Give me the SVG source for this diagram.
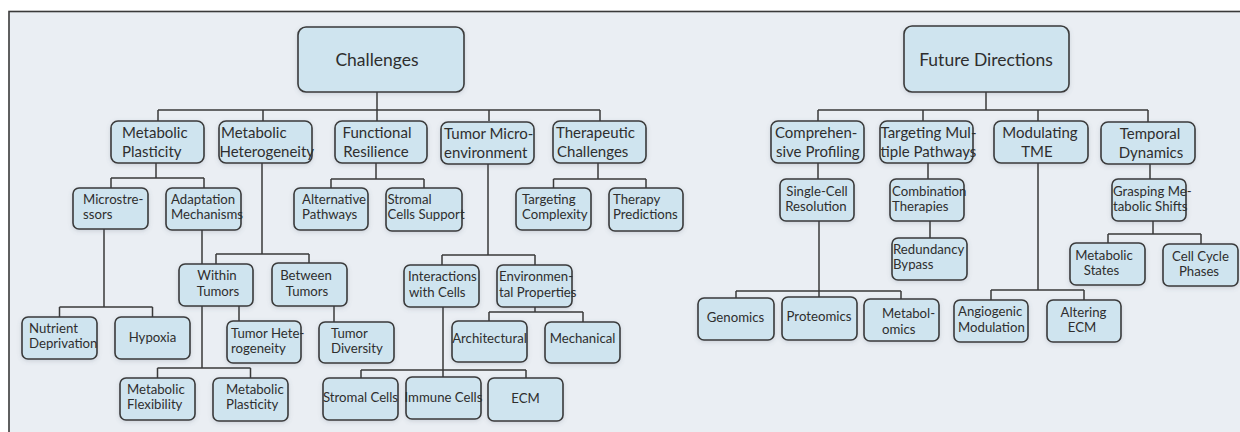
<svg xmlns="http://www.w3.org/2000/svg" width="1240" height="432" viewBox="0 0 1240 432">
<defs>
<filter id="sh" x="-20%" y="-20%" width="140%" height="150%">
<feDropShadow dx="0" dy="1.5" stdDeviation="2" flood-color="#5a6a7a" flood-opacity="0.22"/>
</filter>
</defs>
<style>
.n rect{fill:#cfe4ef;stroke:#3a3a3a;stroke-width:1.6;filter:url(#sh)}
text{font-family:Lato,"Open Sans","Liberation Sans",sans-serif;fill:#2e2e2e}
.t0{font-size:17.5px}
.t1{font-size:15px}
.t2{font-size:13.2px}
.c{text-anchor:middle}
.conn path{fill:none;stroke:#3a3a3a;stroke-width:1.5}
</style>
<rect x="0" y="0" width="1240" height="432" fill="#ffffff"/>
<rect x="9" y="11.5" width="1240" height="440" fill="#eaeef3" stroke="#3a3a3a" stroke-width="1.6"/>

<g id="connectors" class="conn">
<path d="M377 92V110M158 110H600M158 110V121M263 110V121M377 110V121M489 110V121M600 110V121"/>
<path d="M156 163V178M111 178H204M111 178V188M204 178V188"/>
<path d="M104 229V307M59.5 307H152.5M59.5 307V317M152.5 307V317"/>
<path d="M202 230V264"/>
<path d="M262 163V254M216 254H309M216 254V264M309 254V264"/>
<path d="M202 306V368M157.5 368H250.5M157.5 368V378M250.5 368V378M239 306V321"/>
<path d="M334 306V322"/>
<path d="M376 163V179M331 179H424M331 179V188M424 179V188"/>
<path d="M488 164V255M442 255H535M442 255V265M535 255V265"/>
<path d="M598 163V179M553.5 179H646M553.5 179V188M646 179V188"/>
<path d="M443 307V377M361 370H526M361 370V378M526 370V378"/>
<path d="M535 307V312M489 312H583M489 312V321M583 312V322"/>
<path d="M986 92V110M818 110H1148M818 110V121M923 110V121M1038 110V121M1148 110V122"/>
<path d="M818 163V179"/>
<path d="M819 221V291M736 291H901M736 291V298M819 291V297M901 291V299"/>
<path d="M928 163V179M930 221V238"/>
<path d="M1038 163V290M991 290H1084M991 290V300M1084 290V300"/>
<path d="M1150 164V179M1153 221V234M1108 234H1201M1108 234V243M1201 234V244"/>
</g>

<g id="n-challenges" class="n"><rect x="298" y="27" width="166" height="65" rx="8"/><text class="t0 c" x="377" y="66">Challenges</text></g>
<g id="n-future" class="n"><rect x="904" y="26" width="165" height="66" rx="8"/><text class="t0 c" x="986" y="66">Future Directions</text></g>

<g id="n-metplast" class="n"><rect x="111" y="121" width="93" height="42" rx="7"/><text class="t1" x="122" y="138">Metabolic<tspan x="122" y="157">Plasticity</tspan></text></g>
<g id="n-methet" class="n"><rect x="219" y="121" width="93" height="42" rx="7"/><text class="t1" x="221" y="138">Metabolic<tspan x="219.5" y="157">Heterogeneity</tspan></text></g>
<g id="n-funcres" class="n"><rect x="335" y="121" width="92" height="42" rx="7"/><text class="t1 c" x="377" y="138">Functional<tspan x="376" y="157">Resilience</tspan></text></g>
<g id="n-tme" class="n"><rect x="441" y="122" width="93" height="42" rx="7"/><text class="t1" x="444" y="139">Tumor Micro-<tspan x="444" y="158">environment</tspan></text></g>
<g id="n-therch" class="n"><rect x="553" y="121" width="93" height="42" rx="7"/><text class="t1" x="556" y="138">Therapeutic<tspan x="557" y="157">Challenges</tspan></text></g>

<g id="n-micro" class="n"><rect x="73" y="188" width="75" height="41" rx="6"/><text class="t2" x="83" y="204">Microstre-<tspan x="83" y="219">ssors</tspan></text></g>
<g id="n-adapt" class="n"><rect x="166" y="188" width="75" height="42" rx="6"/><text class="t2" x="171" y="204">Adaptation<tspan x="171" y="219">Mechanisms</tspan></text></g>
<g id="n-altpath" class="n"><rect x="294" y="188" width="74" height="42" rx="6"/><text class="t2" x="302" y="204">Alternative<tspan x="302" y="219">Pathways</tspan></text></g>
<g id="n-stromsup" class="n"><rect x="386" y="188" width="76" height="43" rx="6"/><text class="t2" x="387.5" y="204">Stromal<tspan x="387.5" y="219">Cells Support</tspan></text></g>
<g id="n-targcomp" class="n"><rect x="516" y="188" width="75" height="42" rx="6"/><text class="t2" x="522" y="204">Targeting<tspan x="522" y="219">Complexity</tspan></text></g>
<g id="n-therpred" class="n"><rect x="609" y="188" width="74" height="43" rx="6"/><text class="t2" x="613" y="204">Therapy<tspan x="613" y="219">Predictions</tspan></text></g>

<g id="n-within" class="n"><rect x="179" y="264" width="74" height="42" rx="6"/><text class="t2 c" x="217" y="280">Within<tspan x="218" y="296">Tumors</tspan></text></g>
<g id="n-between" class="n"><rect x="272" y="263" width="75" height="43" rx="6"/><text class="t2 c" x="306" y="280">Between<tspan x="307" y="296">Tumors</tspan></text></g>
<g id="n-interact" class="n"><rect x="404" y="265" width="75" height="42" rx="6"/><text class="t2" x="408" y="281">Interactions<tspan x="409" y="297">with Cells</tspan></text></g>
<g id="n-envprop" class="n"><rect x="497" y="265" width="75" height="42" rx="6"/><text class="t2" x="499" y="281">Environmen-<tspan x="499" y="297">tal Properties</tspan></text></g>

<g id="n-nutrient" class="n"><rect x="22" y="317" width="75" height="42" rx="6"/><text class="t2" x="29" y="333">Nutrient<tspan x="29" y="348">Deprivation</tspan></text></g>
<g id="n-hypoxia" class="n"><rect x="115" y="317" width="75" height="42" rx="6"/><text class="t2 c" x="152.5" y="342">Hypoxia</text></g>
<g id="n-tumhet" class="n"><rect x="227" y="321" width="74" height="42" rx="6"/><text class="t2" x="231" y="338">Tumor Hete-<tspan x="231" y="353">rogeneity</tspan></text></g>
<g id="n-tumdiv" class="n"><rect x="319" y="322" width="75" height="41" rx="6"/><text class="t2" x="331" y="338">Tumor<tspan x="331" y="353">Diversity</tspan></text></g>
<g id="n-arch" class="n"><rect x="452" y="321" width="75" height="41" rx="6"/><text class="t2 c" x="489.5" y="343">Architectural</text></g>
<g id="n-mech" class="n"><rect x="545" y="322" width="75" height="41" rx="6"/><text class="t2 c" x="582.5" y="343">Mechanical</text></g>

<g id="n-metflex" class="n"><rect x="120" y="378" width="75" height="42" rx="6"/><text class="t2" x="127" y="394">Metabolic<tspan x="127" y="409">Flexibility</tspan></text></g>
<g id="n-metplast2" class="n"><rect x="213" y="378" width="75" height="43" rx="6"/><text class="t2" x="226" y="394">Metabolic<tspan x="226" y="409">Plasticity</tspan></text></g>
<g id="n-stromal" class="n"><rect x="323" y="378" width="75" height="42" rx="6"/><text class="t2 c" x="360.5" y="402">Stromal Cells</text></g>
<g id="n-immune" class="n"><rect x="406" y="377" width="75" height="42" rx="6"/><text class="t2 c" x="443.5" y="402">Immune Cells</text></g>
<g id="n-ecm" class="n"><rect x="488" y="378" width="75" height="43" rx="6"/><text class="t2 c" x="525.5" y="403">ECM</text></g>

<g id="n-compr" class="n"><rect x="771" y="121" width="93" height="42" rx="7"/><text class="t1" x="775" y="138">Comprehen-<tspan x="776" y="157">sive Profiling</tspan></text></g>
<g id="n-targmul" class="n"><rect x="880" y="121" width="93" height="42" rx="7"/><text class="t1" x="880.5" y="138">Targeting Mul-<tspan x="880.5" y="157">tiple Pathways</tspan></text></g>
<g id="n-modtme" class="n"><rect x="994" y="121" width="94" height="42" rx="7"/><text class="t1 c" x="1040" y="138">Modulating<tspan x="1037" y="157">TME</tspan></text></g>
<g id="n-temporal" class="n"><rect x="1101" y="122" width="94" height="42" rx="7"/><text class="t1 c" x="1150" y="139">Temporal<tspan x="1151" y="158">Dynamics</tspan></text></g>

<g id="n-single" class="n"><rect x="780" y="179" width="74" height="42" rx="6"/><text class="t2 c" x="817" y="196">Single-Cell<tspan x="816" y="211">Resolution</tspan></text></g>
<g id="n-combo" class="n"><rect x="890" y="179" width="74" height="42" rx="6"/><text class="t2" x="892" y="196">Combination<tspan x="892" y="211">Therapies</tspan></text></g>
<g id="n-redund" class="n"><rect x="892" y="238" width="75" height="42" rx="6"/><text class="t2" x="893" y="254">Redundancy<tspan x="893" y="269">Bypass</tspan></text></g>
<g id="n-grasp" class="n"><rect x="1112" y="179" width="74" height="42" rx="6"/><text class="t2" x="1113" y="196">Grasping Me-<tspan x="1113" y="211">tabolic Shifts</tspan></text></g>
<g id="n-metstates" class="n"><rect x="1070" y="243" width="75" height="42" rx="6"/><text class="t2 c" x="1104" y="260">Metabolic<tspan x="1101.5" y="275">States</tspan></text></g>
<g id="n-cellcycle" class="n"><rect x="1163" y="244" width="75" height="42" rx="6"/><text class="t2 c" x="1200.5" y="261">Cell Cycle<tspan x="1199" y="276">Phases</tspan></text></g>

<g id="n-genomics" class="n"><rect x="698" y="298" width="76" height="42" rx="6"/><text class="t2 c" x="735.5" y="322">Genomics</text></g>
<g id="n-proteomics" class="n"><rect x="782" y="297" width="75" height="43" rx="6"/><text class="t2 c" x="819" y="321">Proteomics</text></g>
<g id="n-metabolomics" class="n"><rect x="864" y="299" width="75" height="42" rx="6"/><text class="t2" x="882" y="318">Metabol-<tspan x="882" y="334">omics</tspan></text></g>
<g id="n-angio" class="n"><rect x="954" y="300" width="74" height="42" rx="6"/><text class="t2" x="958" y="316">Angiogenic<tspan x="958" y="332">Modulation</tspan></text></g>
<g id="n-altecm" class="n"><rect x="1047" y="300" width="74" height="42" rx="6"/><text class="t2 c" x="1083.5" y="317">Altering<tspan x="1082" y="332">ECM</tspan></text></g>
</svg>
